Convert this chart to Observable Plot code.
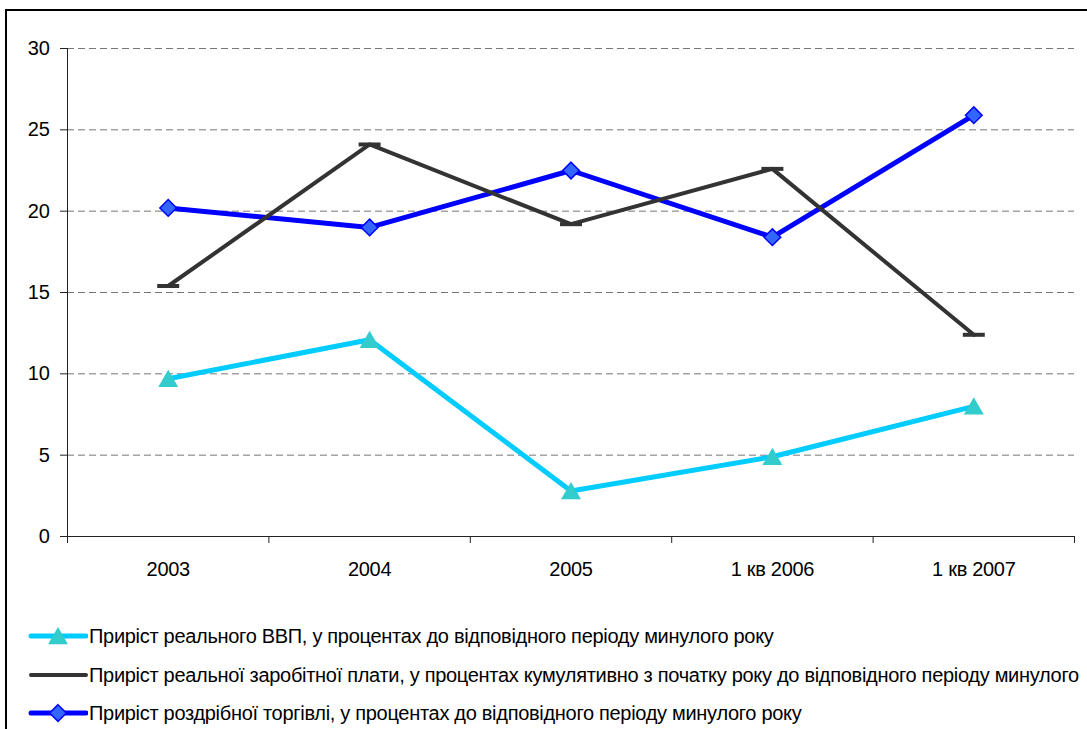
<!DOCTYPE html>
<html><head><meta charset="utf-8">
<script src="https://cdn.jsdelivr.net/npm/d3@7"></script>
<script src="https://cdn.jsdelivr.net/npm/@observablehq/plot@0.6"></script>
<style>
html,body{margin:0;padding:0;background:#fff;overflow:hidden;width:1087px;height:729px;}
#frame{position:absolute;left:5px;top:9px;width:1110px;height:750px;border:2px solid #000;box-sizing:border-box;}
#chart{position:absolute;left:0;top:0;}
#chart svg text{letter-spacing:-0.3px;}
.legend-row{position:absolute;left:28px;height:24px;display:flex;align-items:center;white-space:pre;font-family:"Liberation Sans",Arial,sans-serif;font-size:20px;letter-spacing:-0.3px;color:#000;}
.legend-row svg{flex:none;display:block;}
.legend-row span{margin-left:1px;}
</style></head><body>
<div id="frame"></div>
<div id="chart"></div>
<div id="legend"></div>
<script>
const categories = ["2003", "2004", "2005", "1 кв 2006", "1 кв 2007"];
const gdpGrowth = [9.7, 12.1, 2.8, 4.9, 8.0];
const wageGrowth = [15.4, 24.1, 19.2, 22.6, 12.4];
const retailGrowth = [20.2, 19.0, 22.5, 18.4, 25.9];
const yTicks = [0, 5, 10, 15, 20, 25, 30];
const seriesNames = [
  "Приріст реального ВВП, у процентах до відповідного періоду минулого року",
  "Приріст реальної заробітної плати, у процентах кумулятивно з початку року до відповідного періоду минулого",
  "Приріст роздрібної торгівлі, у процентах до відповідного періоду минулого року"
];
const colors = {gdp: "#00ccff", gdpMarker: "#33cccc", wage: "#333333", retail: "#0000ff", retailFill: "#3366ff"};

const rows = (vals) => categories.map((c, i) => ({cat: c, pos: i + 0.5, value: vals[i]}));
const gdp = rows(gdpGrowth), wage = rows(wageGrowth), retail = rows(retailGrowth);
const boundaries = d3.range(categories.length + 1);
const centers = categories.map((c, i) => i + 0.5);

const dashSymbol = {draw(ctx) { ctx.moveTo(-11, 0); ctx.lineTo(11, 0); }};

const chart = Plot.plot({
  width: 1087, height: 600,
  marginLeft: 67, marginRight: 13, marginTop: 48, marginBottom: 64,
  style: {fontFamily: "'Liberation Sans', Arial, sans-serif", fontSize: "20px", color: "#000", background: "transparent", overflow: "visible"},
  x: {type: "linear", domain: [0, categories.length]},
  y: {domain: [0, 30]},
  marks: [
    Plot.gridY(yTicks.filter(t => t > 0), {stroke: "#777", strokeOpacity: 1, strokeDasharray: "7,4"}),
    Plot.ruleY([0], {stroke: "#222"}),
    Plot.ruleX([0], {stroke: "#222"}),
    Plot.axisY({ticks: yTicks, tickSize: 7, tickPadding: 11, label: null, stroke: "#222", fontSize: 20}),
    Plot.axisX({ticks: boundaries, tickSize: 7, tickFormat: () => "", label: null, stroke: "#222"}),
    Plot.axisX({ticks: centers, tickSize: 0, tickPadding: 25, tickFormat: d => categories[Math.floor(d)], label: null, fontSize: 20}),
    Plot.line(gdp, {x: "pos", y: "value", stroke: colors.gdp, strokeWidth: 5}),
    Plot.line(retail, {x: "pos", y: "value", stroke: colors.retail, strokeWidth: 5}),
    Plot.line(wage, {x: "pos", y: "value", stroke: colors.wage, strokeWidth: 4}),
    Plot.dot(gdp, {x: "pos", y: "value", symbol: "triangle", r: 7.4, fill: colors.gdpMarker, dy: 2.5}),
    Plot.dot(retail, {x: "pos", y: "value", symbol: "diamond2", r: 7.5, fill: colors.retailFill, stroke: colors.retail, strokeWidth: 1.5}),
    Plot.dot(wage, {x: "pos", y: "value", symbol: dashSymbol, stroke: colors.wage, strokeWidth: 4, strokeLinecap: "butt"})
  ]
});
document.getElementById("chart").appendChild(chart);

// legend
const legend = document.getElementById("legend");
const swatches = [
  `<line x1="3" y1="12" x2="58" y2="12" stroke="${colors.gdp}" stroke-width="5" stroke-linecap="round"/><path d="${d3.symbol(d3.symbolTriangle, Math.PI*7.4*7.4)()}" transform="translate(30,14.5)" fill="${colors.gdpMarker}"/>`,
  `<line x1="3" y1="12" x2="58" y2="12" stroke="${colors.wage}" stroke-width="4" stroke-linecap="round"/>`,
  `<line x1="3" y1="12" x2="58" y2="12" stroke="${colors.retail}" stroke-width="5" stroke-linecap="round"/><path d="${d3.symbol(d3.symbolDiamond2, Math.PI*7.5*7.5)()}" transform="translate(30,12)" fill="${colors.retailFill}" stroke="${colors.retail}" stroke-width="1.5"/>`
];
const rowCenters = [636, 675, 713];
seriesNames.forEach((name, i) => {
  const row = document.createElement("div");
  row.className = "legend-row";
  row.style.top = (rowCenters[i] - 12) + "px";
  row.innerHTML = `<svg width="60" height="24">${swatches[i]}</svg><span></span>`;
  row.querySelector("span").textContent = name;
  legend.appendChild(row);
});
</script>
</body></html>
